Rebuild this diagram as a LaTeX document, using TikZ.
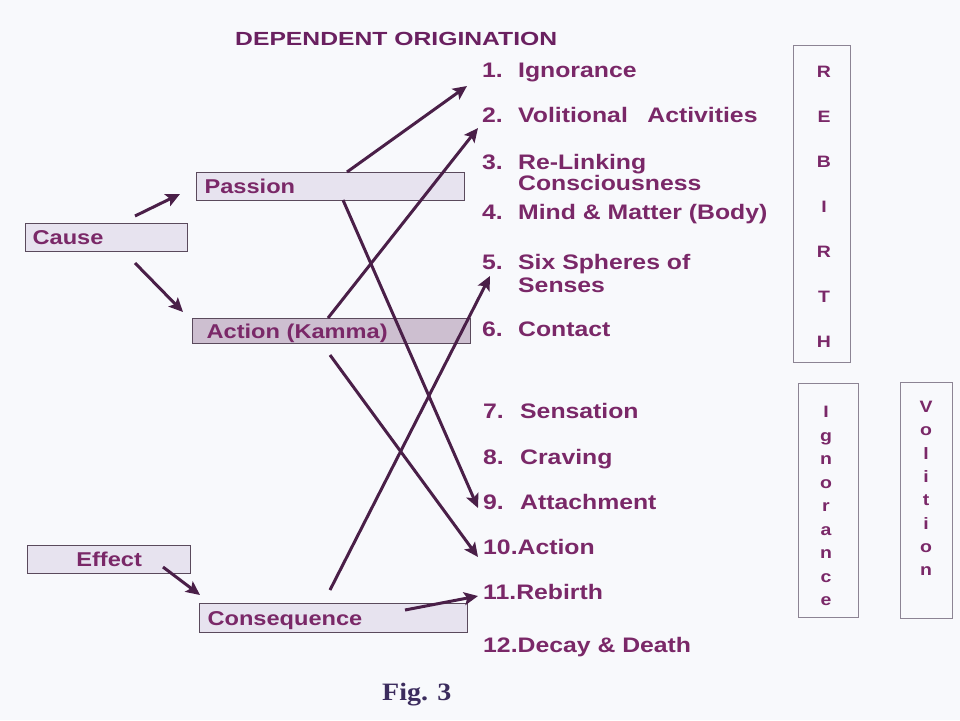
\documentclass[tikz,border=0pt]{standalone}
\usepackage{fontspec}
\setmainfont{Liberation Sans}[FakeStretch=1.18]
\newfontfamily\titlefont{Liberation Sans}[FakeStretch=1.3]
\newfontfamily\figfont{Liberation Serif}[FakeStretch=1.12]
\usetikzlibrary{arrows.meta}
\definecolor{txt}{HTML}{7A2868}
\definecolor{ttl}{HTML}{6A2060}
\definecolor{ln}{HTML}{4A1F48}
\definecolor{bg}{HTML}{F8F9FC}
\definecolor{bx}{HTML}{5A4A5C}
\definecolor{fillA}{HTML}{E7E3EF}
\definecolor{fillK}{HTML}{CDBFD0}
\definecolor{gbx}{HTML}{8C8494}
\definecolor{figc}{HTML}{3C2C5E}
\tikzset{
  lbox/.style={draw=bx, line width=1.2pt, fill=fillA, anchor=north west, text=txt,
    font=\fontsize{20}{22}\selectfont\bfseries, text height=14.5pt, text depth=0pt,
    inner ysep=0pt, align=left},
  item/.style={anchor=base west, text=txt, font=\fontsize{21}{22}\selectfont\bfseries,
    inner sep=0pt, align=left},
  arr/.style={draw=ln, line width=3pt, -{Stealth[length=14pt,width=13pt,inset=3pt]}},
  vframe/.style={draw=gbx, line width=0.9pt, anchor=north west, inner sep=0pt},
  vletters/.style={anchor=north, text=txt, align=center, inner sep=0pt}
}
\begin{document}
\begin{tikzpicture}[x=1pt,y=-1pt]
\fill[bg] (0,0) rectangle (960,720);
\useasboundingbox (0,0) rectangle (960,720);

% title
\node[anchor=base west, inner sep=0pt, text=ttl, font=\titlefont\fontsize{19}{20}\selectfont\bfseries] (title) at (235,45) {DEPENDENT ORIGINATION};

% left boxes
\node[lbox, inner xsep=7pt, text width=148pt, minimum height=28pt] (cause) at (25,223) {Cause};
\node[lbox, inner xsep=8pt, text width=252pt, minimum height=28pt] (passion) at (196,172) {Passion};
\node[lbox, fill=fillK, inner xsep=14pt, text width=250pt, minimum height=25pt] (action) at (192,318) {Action (Kamma)};
\node[lbox, inner xsep=7pt, text width=149pt, minimum height=28pt, align=center] (effect) at (27,545) {Effect};
\node[lbox, inner xsep=8pt, text width=252pt, minimum height=29pt] (conseq) at (199,603) {Consequence};

% list
\node[item] (i1) at (482,77) {\makebox[36pt][l]{1.}Ignorance};
\node[item] (i2) at (482,122) {\makebox[36pt][l]{2.}Volitional\hspace{0.6em} Activities};
\node[item, font=\fontsize{21}{21}\selectfont\bfseries] (i3) at (482,190) {\makebox[36pt][l]{3.}Re-Linking\\\hspace*{36pt}Consciousness};
\node[item] (i4) at (482,219) {\makebox[36pt][l]{4.}Mind \& Matter (Body)};
\node[item, font=\fontsize{21}{23}\selectfont\bfseries] (i5) at (482,292) {\makebox[36pt][l]{5.}Six Spheres of\\\hspace*{36pt}Senses};
\node[item] (i6) at (482,336) {\makebox[36pt][l]{6.}Contact};
\node[item] (i7) at (483,418) {\makebox[37pt][l]{7.}Sensation};
\node[item] (i8) at (483,464) {\makebox[37pt][l]{8.}Craving};
\node[item] (i9) at (483,509) {\makebox[37pt][l]{9.}Attachment};
\node[item] (i10) at (483,554) {10.Action};
\node[item] (i11) at (483,599) {11.Rebirth};
\node[item] (i12) at (483,652) {12.Decay \& Death};

% right frames
\node[vframe, minimum width=57pt, minimum height=317pt] (rebirth) at (793,45) {};
\node[vletters, font=\fontsize{16.5}{45}\selectfont\bfseries] (rebirthtxt) at (824,66) {R\\E\\B\\I\\R\\T\\H};
\node[vframe, minimum width=60pt, minimum height=234pt] (ignor) at (798,383) {};
\node[vletters, font=\fontsize{16.5}{23.5}\selectfont\bfseries] (ignortxt) at (826,406) {I\\g\\n\\o\\r\\a\\n\\c\\e};
\node[vframe, minimum width=52pt, minimum height=236pt] (volit) at (900,382) {};
\node[vletters, font=\fontsize{16.5}{23.3}\selectfont\bfseries] (volittxt) at (926,401) {V\\o\\l\\i\\t\\i\\o\\n};

% figure caption
\node[anchor=base west, inner sep=0pt, text=figc, font=\figfont\fontsize{25}{26}\selectfont\bfseries] (fig) at (382,700) {Fig. 3};

% connector end points
\coordinate (c1) at (135,216); \coordinate (p1) at (180,194);
\coordinate (c2) at (135,263); \coordinate (k2) at (183,312);
\coordinate (e1) at (163,567); \coordinate (q1) at (200,595);
\coordinate (pA) at (347,172); \coordinate (t1) at (467,86);
\coordinate (pB) at (343,200); \coordinate (t9) at (478,508);
\coordinate (kC) at (328,318); \coordinate (t2) at (478,128);
\coordinate (kD) at (330,355); \coordinate (t10) at (478,557);
\coordinate (cE) at (330,590); \coordinate (t5) at (490,276);
\coordinate (cF) at (405,610); \coordinate (t11) at (478,596);

% connectors
\draw[arr] (c1) -- (p1);
\draw[arr] (c2) -- (k2);
\draw[arr] (e1) -- (q1);
\draw[arr] (pA) -- (t1);
\draw[arr] (pB) -- (t9);
\draw[arr] (kC) -- (t2);
\draw[arr] (kD) -- (t10);
\draw[arr] (cE) -- (t5);
\draw[arr] (cF) -- (t11);
\end{tikzpicture}
\end{document}
